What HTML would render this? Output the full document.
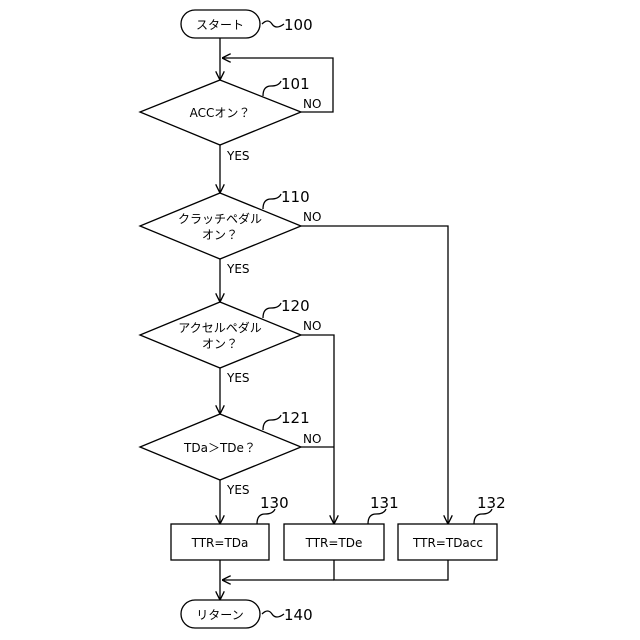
<!DOCTYPE html>
<html><head><meta charset="utf-8"><style>body{margin:0;background:#fff}svg{display:block}text{font-family:"DejaVu Sans","Noto Sans CJK JP",sans-serif;fill:#000}</style></head><body>
<svg width="640" height="640" viewBox="0 0 640 640" xmlns="http://www.w3.org/2000/svg">
<defs><marker id="a" viewBox="0 0 10 10" refX="10" refY="5" markerWidth="7" markerHeight="7" orient="auto"><path d="M0,0 L10,5 L0,10" fill="none" stroke="#000" stroke-width="1.5"/></marker></defs>
<g stroke="#000" stroke-width="1.3" fill="none">
<rect x="181" y="10" width="79" height="28" rx="14"/>
<rect x="181" y="600" width="79" height="28" rx="14"/>
<polygon points="220,80 301,112 220,145 140,112"/>
<polygon points="220,193 301,226 220,259 140,226"/>
<polygon points="220,302 301,335 220,368 140,335"/>
<polygon points="220,414 301,447 220,480 140,447"/>
<rect x="171" y="524" width="98" height="36"/>
<rect x="284" y="524" width="100" height="36"/>
<rect x="398" y="524" width="99" height="36"/>
<line x1="220" y1="38" x2="220" y2="80" marker-end="url(#a)"/>
<polyline points="301,112 333,112 333,58 222,58" marker-end="url(#a)"/>
<line x1="220" y1="145" x2="220" y2="193" marker-end="url(#a)"/>
<line x1="220" y1="259" x2="220" y2="302" marker-end="url(#a)"/>
<line x1="220" y1="368" x2="220" y2="414" marker-end="url(#a)"/>
<line x1="220" y1="480" x2="220" y2="524" marker-end="url(#a)"/>
<polyline points="301,226 448,226 448,524" marker-end="url(#a)"/>
<polyline points="301,335 334,335 334,524" marker-end="url(#a)"/>
<line x1="301" y1="447" x2="334" y2="447"/>
<line x1="220" y1="560" x2="220" y2="600" marker-end="url(#a)"/>
<polyline points="334,560 334,580 448,580 448,560"/>
<line x1="334" y1="580" x2="222" y2="580" marker-end="url(#a)"/>
<path d="M262,24 q6,-6 10,0 t12,0"/>
<path d="M262,614 q6,-6 10,0 t12,0"/>
<path d="M263,96 q0,-10 8,-10 t10,-5"/>
<path d="M263,209 q0,-10 8,-10 t10,-5"/>
<path d="M263,318 q0,-10 8,-10 t10,-5"/>
<path d="M263,430 q0,-10 8,-10 t10,-5"/>
<path d="M257,524 q0,-10 8,-10 t10,-5"/>
<path d="M368,524 q0,-10 8,-10 t10,-5"/>
<path d="M474,524 q0,-10 8,-10 t10,-5"/>
</g>
<g font-size="12" text-anchor="middle">
<text x="220" y="29">スタート</text>
<text x="220" y="619">リターン</text>
<text x="220" y="117">ACCオン？</text>
<text x="220" y="223">クラッチペダル</text><text x="220" y="239">オン？</text>
<text x="220" y="332">アクセルペダル</text><text x="220" y="348">オン？</text>
<text x="220" y="452">TDa＞TDe？</text>
<text x="220" y="547">TTR=TDa</text>
<text x="334" y="547">TTR=TDe</text>
<text x="448" y="547">TTR=TDacc</text>
</g>
<g font-size="12">
<text x="303" y="108">NO</text><text x="303" y="221">NO</text><text x="303" y="330">NO</text><text x="303" y="443">NO</text>
<text x="227" y="160">YES</text><text x="227" y="273">YES</text><text x="227" y="382">YES</text><text x="227" y="494">YES</text>
</g>
<g font-size="15">
<text x="284" y="30">100</text><text x="284" y="620">140</text>
<text x="281" y="89">101</text><text x="281" y="202">110</text><text x="281" y="311">120</text><text x="281" y="423">121</text>
<text x="260" y="508">130</text><text x="370" y="508">131</text><text x="477" y="508">132</text>
</g>
</svg>
</body></html>
